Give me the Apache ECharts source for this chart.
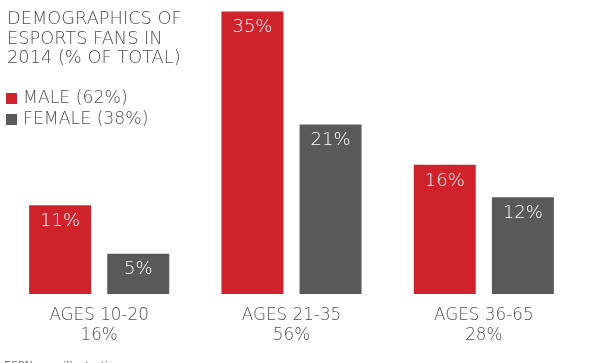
<!DOCTYPE html>
<html><head><meta charset="utf-8">
<script src="https://cdn.jsdelivr.net/npm/echarts@6/dist/echarts.min.js"></script>
<style>html,body{margin:0;padding:0;background:#fff}#c{width:599px;height:363px}</style>
</head><body><div id="c"></div>
<script>
var categories = ['AGES 10-20\n16%', 'AGES 21-35\n56%', 'AGES 36-65\n28%'];
var maleValues = [11, 35, 16];
var femaleValues = [5, 21, 12];
var seriesNames = ['MALE (62%)', 'FEMALE (38%)'];
var titleText = 'DEMOGRAPHICS OF\nESPORTS FANS IN\n2014 (% OF TOTAL)';
var footerText = 'ESPN.com illustration';

var FONT = 'DejaVu Sans';
var W = 200;
var TXT = '#4e4e4e';
var chart = echarts.init(document.getElementById('c'), null, {renderer: 'canvas'});
var labelCfg = {
  show: true, position: 'insideTop', distance: 7, color: '#fff',
  fontFamily: FONT, fontWeight: W, fontSize: 18,
  formatter: function (p) { return p.value + '%'; }
};
chart.setOption({
  animation: false,
  title: {
    text: titleText, left: 2, top: 4.5,
    textStyle: {fontFamily: FONT, fontWeight: W, fontSize: 17.8, color: TXT, lineHeight: 19.7}
  },
  legend: {
    orient: 'vertical', left: 1, top: 85, itemGap: 4,
    icon: 'rect', itemWidth: 11, itemHeight: 11,
    textStyle: {fontFamily: FONT, fontWeight: W, fontSize: 17.3, color: TXT, lineHeight: 13, padding: [0, 0, 0, 1]},
    data: seriesNames
  },
  grid: {left: 3, right: 19, top: 11.5, bottom: 69},
  xAxis: {
    type: 'category', data: categories,
    axisLine: {show: false}, axisTick: {show: false},
    axisLabel: {fontFamily: FONT, fontWeight: W, fontSize: 16.8, color: TXT, lineHeight: 20, margin: 12}
  },
  yAxis: {type: 'value', min: 0, max: 35, show: false, splitLine: {show: false}},
  series: [
    {name: seriesNames[0], type: 'bar', data: maleValues, barWidth: 62, barGap: '26%',
     itemStyle: {color: '#d0222b'}, label: labelCfg},
    {name: seriesNames[1], type: 'bar', data: femaleValues, barWidth: 62,
     itemStyle: {color: '#595959'}, label: labelCfg}
  ],
  graphic: [{
    type: 'text', left: 4, top: 361,
    style: {text: footerText, fontFamily: FONT, fontSize: 11, fill: '#777'}
  }]
});
</script></body></html>
